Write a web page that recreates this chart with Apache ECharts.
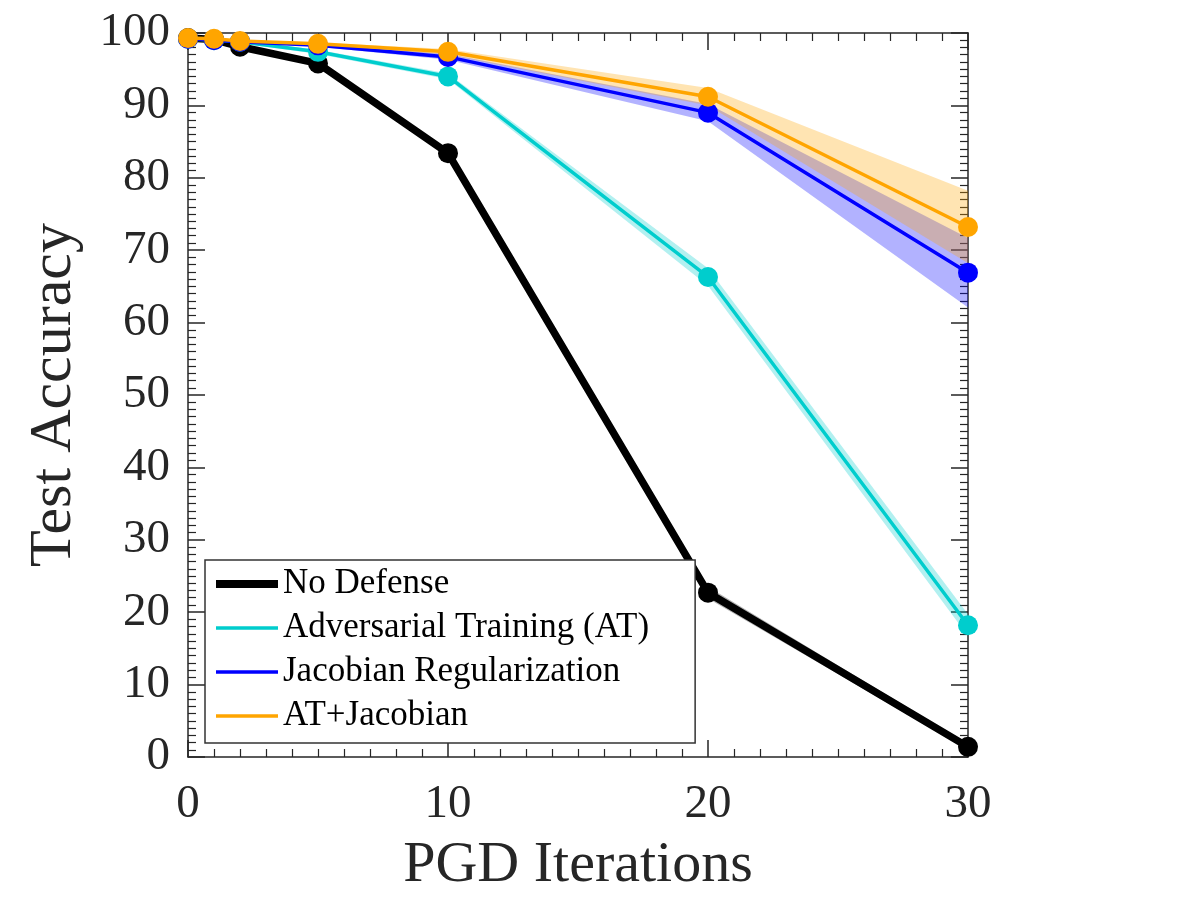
<!DOCTYPE html>
<html>
<head>
<meta charset="utf-8">
<script src="https://cdn.jsdelivr.net/npm/echarts@6/dist/echarts.min.js"></script>
<style>
  html, body { margin: 0; padding: 0; background: #fff; }
  #chart { width: 1181px; height: 909px; }
</style>
</head>
<body>
<div id="chart"></div>
<script>
// PGD iterations on the x axis
var iters = [0, 1, 2, 5, 10, 20, 30];

// mean test accuracy and half width of the shaded band
var noDefense = [99.3, 99.1, 98.1, 95.8, 83.4, 22.7, 1.4];
var noDefenseSpread = [0.1, 0.1, 0.2, 0.3, 0.4, 0.8, 0.4];
var advTraining = [99.2, 99.0, 98.8, 97.4, 94.0, 66.3, 18.2];
var advTrainingSpread = [0.1, 0.1, 0.2, 0.3, 0.4, 1.2, 1.5];
var jacobian = [99.2, 99.0, 98.8, 98.3, 96.7, 89.0, 66.9];
var jacobianSpread = [0.1, 0.1, 0.1, 0.2, 0.4, 1.2, 4.8];
var atJacobian = [99.3, 99.2, 98.9, 98.5, 97.4, 91.2, 73.2];
var atJacobianSpread = [0.1, 0.1, 0.1, 0.2, 0.4, 1.2, 5.0];

var xTicks = [0, 10, 20, 30];
var yTicks = [0, 10, 20, 30, 40, 50, 60, 70, 80, 90, 100];

var names = ['No Defense', 'Adversarial Training (AT)', 'Jacobian Regularization', 'AT+Jacobian'];
var colors = ['#000000', '#00cdcd', '#0000ff', '#ffa500'];
var bandColors = ['rgba(0,0,0,0.3)', 'rgba(0,205,205,0.3)', 'rgba(0,0,255,0.3)', 'rgba(255,165,0,0.3)'];
var widths = [7.5, 3.5, 3.5, 3.5];
var means = [noDefense, advTraining, jacobian, atJacobian];
var spreads = [noDefenseSpread, advTrainingSpread, jacobianSpread, atJacobianSpread];

var axisColor = '#262626';
var font = '"Liberation Serif", "Times New Roman", serif';

function pairs(ys) {
    var out = [];
    for (var i = 0; i < iters.length; i++) out.push([iters[i], ys[i]]);
    return out;
}

// shaded band: one polygon, upper edge then lower edge back
function bandRenderer(k) {
    return function (params, api) {
        if (params.dataIndex !== 0) return;
        var pts = [];
        for (var i = 0; i < iters.length; i++) {
            pts.push(api.coord([iters[i], means[k][i] + spreads[k][i]]));
        }
        for (var j = iters.length - 1; j >= 0; j--) {
            pts.push(api.coord([iters[j], means[k][j] - spreads[k][j]]));
        }
        return { type: 'polygon', shape: { points: pts }, style: { fill: bandColors[k] } };
    };
}

var series = [];
for (var k = 0; k < names.length; k++) {
    series.push({
        name: 'band-' + k, type: 'custom', renderItem: bandRenderer(k),
        data: pairs(means[k]), silent: true, z: 1
    });
}
for (var k = 0; k < names.length; k++) {
    series.push({
        name: names[k], type: 'line', data: pairs(means[k]), z: 3 + k,
        symbol: 'circle', symbolSize: 20,
        itemStyle: { color: colors[k] },
        lineStyle: { color: colors[k], width: widths[k] }
    });
}

var legendData = [];
for (var k = 0; k < names.length; k++) {
    legendData.push({ name: names[k], lineStyle: { width: k === 0 ? 8 : 3.5 } });
}

function makeAxis(pos, ticks, showLabel, extra) {
    var ax = {
        type: 'value', position: pos,
        min: ticks[0], max: ticks[ticks.length - 1], interval: 10,
        axisLine: { show: true, onZero: false, lineStyle: { color: axisColor, width: 1.5 } },
        axisTick: { show: true, inside: true, length: 17, lineStyle: { color: axisColor, width: 1.5 } },
        minorTick: { show: true, splitNumber: 10, length: 8, lineStyle: { color: axisColor, width: 1.2 } },
        splitLine: { show: false },
        axisLabel: { show: showLabel, color: axisColor, fontFamily: font, fontSize: 47 }
    };
    for (var key in extra) ax[key] = extra[key];
    return ax;
}

var xMain = makeAxis('bottom', xTicks, true, {
    name: 'PGD Iterations', nameLocation: 'middle', nameGap: 80,
    nameTextStyle: { color: axisColor, fontFamily: font, fontSize: 58 }
});
xMain.axisLabel.margin = 24;
var yMain = makeAxis('left', yTicks, true, {
    name: 'Test Accuracy', nameLocation: 'middle', nameGap: 104,
    nameTextStyle: { color: axisColor, fontFamily: font, fontSize: 60 }
});
yMain.axisLabel.margin = 18;

var option = {
    animation: false,
    backgroundColor: '#ffffff',
    grid: { left: 188, right: 213, top: 33, bottom: 152, containLabel: false },
    xAxis: [xMain, makeAxis('top', xTicks, false, {})],
    yAxis: [yMain, makeAxis('right', yTicks, false, {})],
    legend: {
        data: legendData,
        orient: 'vertical', left: 205, top: 560,
        itemWidth: 62, itemHeight: 14, itemGap: 8,
        padding: [6, 46, 9, 7],
        backgroundColor: '#ffffff',
        borderColor: '#333333', borderWidth: 1.5, borderRadius: 0,
        itemStyle: { opacity: 0 },
        textStyle: { color: '#000', fontFamily: font, fontSize: 35, lineHeight: 36 },
        selectedMode: false
    },
    series: series
};

var myChart = echarts.init(document.getElementById('chart'));
myChart.setOption(option);
</script>
</body>
</html>
